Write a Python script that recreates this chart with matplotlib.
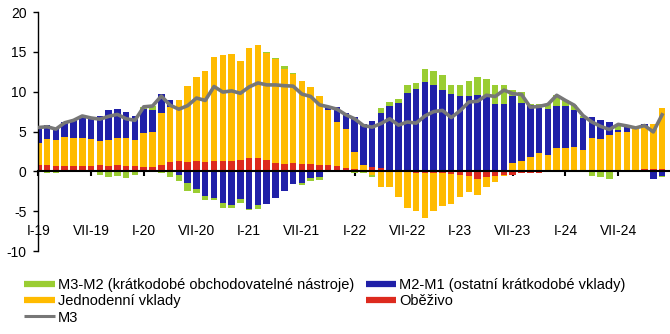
import numpy as np
import matplotlib
matplotlib.use("Agg")
import matplotlib.pyplot as plt
from matplotlib.lines import Line2D

plt.rcParams['font.family'] = ['Liberation Sans', 'DejaVu Sans']
plt.rcParams['axes.unicode_minus'] = False

# monthly contributions to M3 growth, Jan 2019 - Dec 2024 (p.p.)
obezivo = [0.75, 0.75, 0.63, 0.63, 0.63, 0.63, 0.63, 0.75, 0.63, 0.75, 0.63, 0.63,
           0.5, 0.5, 0.75, 1.13, 1.25, 1.13, 1.25, 1.13, 1.25, 1.25, 1.25, 1.4,
           1.63, 1.63, 1.4, 1.0, 0.88, 1.0, 0.88, 0.88, 0.75, 0.75, 0.63, 0.38,
           0.25, 0.2, 0.5, 0.38, 0.1, 0.0, 0.0, -0.2, -0.2, -0.2, -0.25, -0.38,
           -0.5, -0.6, -0.9, -0.75, -0.6, -0.5, -0.4, -0.25, -0.25, -0.25, 0.0, 0.0,
           0.0, 0.0, 0.0, 0.0, 0.0, 0.0, 0.0, 0.1, 0.1, 0.25, 0.25, 0.25]
jednodenni = [2.75, 3.25, 3.27, 3.67, 3.52, 3.52, 3.37, 3.0, 3.27, 3.4, 3.52, 3.27,
              4.3, 4.4, 6.55, 6.97, 7.75, 9.57, 10.65, 11.42, 13.05, 13.3, 13.45, 12.4,
              13.82, 14.17, 13.4, 13.1, 12.02, 11.2, 10.52, 9.67, 8.65, 6.9, 5.52, 4.92,
              2.15, 0.55, -0.5, -2.0, -2.0, -3.25, -4.65, -4.8, -5.7, -4.8, -4.15, -3.77,
              -2.75, -2.05, -2.1, -1.25, -0.8, -0.1, 1.0, 1.25, 1.75, 2.25, 2.1, 2.9,
              2.9, 3.0, 2.65, 4.15, 4.0, 4.5, 4.9, 4.8, 5.3, 5.3, 5.65, 7.7]
m2_m1 = [2.1, 1.8, 1.6, 1.85, 2.25, 2.85, 2.8, 3.25, 3.75, 3.65, 3.25, 3.0,
         3.0, 2.75, 2.35, 0.9, -0.4, -1.45, -2.2, -3.1, -3.35, -4.0, -4.25, -3.5,
         -4.7, -4.2, -4.1, -3.35, -2.45, -1.6, -1.45, -0.85, -0.7, 0.4, 1.9, 2.0,
         4.4, 5.25, 5.8, 7.0, 8.05, 8.55, 9.8, 10.3, 11.2, 10.8, 10.15, 9.65,
         9.4, 9.4, 9.55, 9.3, 8.4, 8.4, 8.4, 7.3, 6.55, 5.65, 5.7, 5.25,
         5.25, 4.65, 4.0, 2.65, 2.4, 1.65, 0.25, 0.85, 0.0, 0.35, -0.9, -0.6]
m3_m2 = [0.0, -0.2, -0.2, 0.0, 0.0, 0.0, 0.0, -0.5, -0.7, -0.6, -0.8, -0.45,
         0.3, 0.6, -0.2, -0.7, -0.8, -1.0, -0.5, -0.55, -0.3, -0.6, -0.35, -0.5,
         -0.15, -0.5, 0.15, 0.1, 0.3, 0.1, -0.25, -0.3, -0.35, 0.0, 0.0, 0.0,
         -0.2, -0.25, -0.2, 0.6, 0.5, 0.5, 1.0, 0.75, 1.6, 1.75, 1.9, 1.25,
         1.5, 1.9, 2.25, 2.25, 2.4, 2.4, 0.75, 1.35, 0.1, 0.5, 0.6, 1.4,
         0.75, 0.65, 0.35, -0.6, -0.75, -0.9, 0.75, 0.0, 0.0, 0.0, -0.1, -0.1]
m3 = [5.5, 5.6, 5.3, 6.1, 6.4, 6.95, 6.7, 6.55, 6.9, 7.15, 6.6, 6.4,
      8.1, 8.2, 9.45, 8.3, 7.8, 8.25, 9.2, 8.9, 10.65, 9.95, 10.1, 9.8,
      10.6, 11.1, 10.85, 10.85, 10.75, 10.7, 9.7, 9.4, 8.35, 8.1, 7.8, 7.1,
      6.6, 5.75, 5.55, 6.0, 6.6, 5.8, 6.2, 6.05, 6.95, 7.5, 7.65, 6.75,
      7.6, 8.7, 8.8, 9.55, 9.4, 10.2, 9.75, 9.65, 8.05, 8.15, 8.4, 9.55,
      8.9, 8.3, 7.0, 6.2, 5.65, 5.25, 5.9, 5.7, 5.45, 5.75, 4.95, 7.1]

tick_labels = ['I-19', 'VII-19', 'I-20', 'VII-20', 'I-21', 'VII-21',
               'I-22', 'VII-22', 'I-23', 'VII-23', 'I-24', 'VII-24']

c_red, c_yellow, c_blue, c_green, c_grey = '#dd2a1e', '#ffbb00', '#2020a8', '#9acd32', '#777777'

series = [
    ('Oběživo', obezivo, c_red),
    ('Jednodenní vklady', jednodenni, c_yellow),
    ('M2-M1 (ostatní krátkodobé vklady)', m2_m1, c_blue),
    ('M3-M2 (krátkodobé obchodovatelné nástroje)', m3_m2, c_green),
]

x = np.arange(len(m3))

fig = plt.figure(figsize=(6.7, 3.34), dpi=100)
ax = fig.add_axes([0.0572, 0.2485, 0.9428, 0.7155])

# stack positive and negative parts separately
pos = np.zeros(len(x))
neg = np.zeros(len(x))
for name, vals, col in series:
    v = np.array(vals)
    bottom = np.where(v >= 0, pos, neg)
    ax.bar(x, v, bottom=bottom, width=0.74, color=col, linewidth=0, zorder=2)
    pos = pos + np.where(v >= 0, v, 0)
    neg = neg + np.where(v < 0, v, 0)

ax.plot(x, m3, color=c_grey, lw=2.6, solid_joinstyle='round', zorder=4)

ax.set_xlim(0, 71.9)
ax.set_ylim(-10, 20)
ax.set_yticks(range(-10, 21, 5))
ax.set_xticks(range(0, 72, 6))
ax.set_xticklabels(tick_labels)

for s in ['top', 'right']:
    ax.spines[s].set_visible(False)
ax.spines['bottom'].set_position(('data', 0))
ax.spines['bottom'].set_linewidth(1.5)
ax.spines['bottom'].set_zorder(5)
ax.spines['left'].set_linewidth(1.0)

ax.tick_params(axis='y', direction='out', length=3.6, width=1.0, pad=5, labelsize=10)
ax.tick_params(axis='x', direction='out', length=3.6, width=1.5, pad=34, labelsize=10)

handles = [
    Line2D([], [], color=c_green, lw=4.5, solid_capstyle='butt'),
    Line2D([], [], color=c_yellow, lw=4.5, solid_capstyle='butt'),
    Line2D([], [], color=c_grey, lw=2.2, solid_capstyle='butt'),
    Line2D([], [], color=c_blue, lw=4.5, solid_capstyle='butt'),
    Line2D([], [], color=c_red, lw=4.5, solid_capstyle='butt'),
]
labels = ['M3-M2 (krátkodobé obchodovatelné nástroje)', 'Jednodenní vklady', 'M3',
          'M2-M1 (ostatní krátkodobé vklady)', 'Oběživo']
fig.legend(handles, labels, loc='upper left', bbox_to_anchor=(0.0358, 0.167),
           ncol=2, frameon=False, fontsize=10.5, handlelength=2.1, handletextpad=0.2,
           columnspacing=0.82, labelspacing=0.15, borderpad=0, borderaxespad=0)

fig.savefig('out.png', dpi=100)
